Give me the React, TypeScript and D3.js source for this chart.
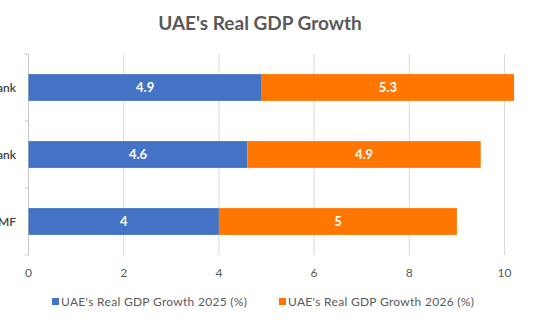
import React from "react";
import * as d3 from "d3";

const categories = ["World Bank", "UAE Central Bank", "IMF"];
const growth2025 = [4.9, 4.6, 4];
const growth2026 = [5.3, 4.9, 5];
const xTicks = [0, 2, 4, 6, 8, 10];
const seriesNames = ["UAE's Real GDP Growth 2025 (%)", "UAE's Real GDP Growth 2026 (%)"];
const colors = ["#4472C4", "#FF7700"];

const W = 540;
const H = 324;
const FONT = "Lato, 'Open Sans', 'Liberation Sans', sans-serif";

export default function App() {
  const x = d3.scaleLinear().domain([0, 10]).range([28.5, 504.5]);
  const y = d3.scaleBand<string>().domain(categories).range([54, 255]).paddingInner(0.6).paddingOuter(0.3);
  const step = y.step();
  const boundaries = d3.range(categories.length + 1).map((i) => 54 + i * step);

  return (
    <svg width={W} height={H} style={{ position: "fixed", left: 0, top: 0, background: "#fff" }} fontFamily={FONT}>
      <rect width={W} height={H} fill="#fff" />
      <text x={260} y={30} textAnchor="middle" fontSize={19} fontWeight={700} fill="#595959">
        UAE's Real GDP Growth
      </text>
      {xTicks.map((t) => (
        <g key={t}>
          {t !== 0 && <line x1={x(t)} x2={x(t)} y1={54} y2={255} stroke="#d9d9d9" strokeWidth={1} />}
          <text x={x(t)} y={277} textAnchor="middle" fontSize={12} fill="#595959">
            {t}
          </text>
        </g>
      ))}
      <line x1={x(0)} x2={x(0)} y1={54} y2={255} stroke="#c8c8c8" strokeWidth={1} />
      {boundaries.map((b, i) => (
        <line key={i} x1={x(0) - 4} x2={x(0)} y1={b} y2={b} stroke="#c8c8c8" strokeWidth={1} />
      ))}
      {categories.map((c, i) => {
        const yy = y(c)!;
        const bw = y.bandwidth();
        const a = growth2025[i];
        const b = growth2026[i];
        return (
          <g key={c}>
            <text x={16} y={yy + bw / 2 + 4} textAnchor="end" fontSize={12} fontWeight={600} fill="#404040">
              {c}
            </text>
            <rect x={x(0)} y={yy} width={x(a) - x(0)} height={bw} fill={colors[0]} />
            <rect x={x(a)} y={yy} width={x(a + b) - x(a)} height={bw} fill={colors[1]} />
            <text x={(x(0) + x(a)) / 2} y={yy + bw / 2 + 4.5} textAnchor="middle" fontSize={13} fontWeight={700} fill="#fff">
              {a}
            </text>
            <text x={(x(a) + x(a + b)) / 2} y={yy + bw / 2 + 4.5} textAnchor="middle" fontSize={13} fontWeight={700} fill="#fff">
              {b}
            </text>
          </g>
        );
      })}
      {seriesNames.map((s, i) => {
        const lx = i === 0 ? 52 : 279;
        return (
          <g key={s}>
            <rect x={lx} y={298} width={7} height={7} fill={colors[i]} />
            <text x={lx + 9} y={306} fontSize={12} fill="#595959" textLength={186} lengthAdjust="spacing">
              {s}
            </text>
          </g>
        );
      })}
    </svg>
  );
}
